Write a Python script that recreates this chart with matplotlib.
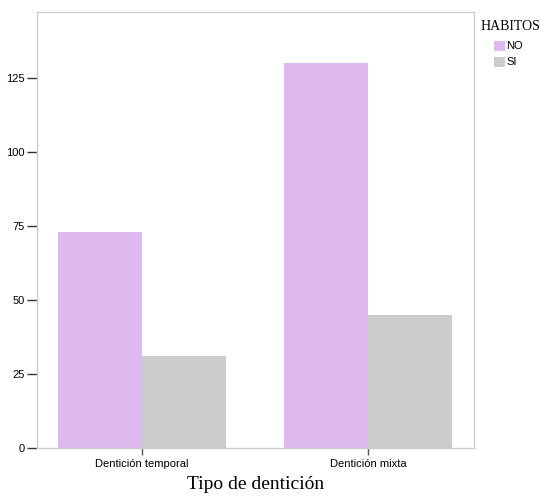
import matplotlib
matplotlib.use("Agg")
import matplotlib.pyplot as plt
import numpy as np
from matplotlib.patches import Rectangle

categories = ["Dentición temporal", "Dentición mixta"]
series_names = ["NO", "SI"]
no_values = [73, 130]
si_values = [31, 45]
y_ticks = [0, 25, 50, 75, 100, 125]
legend_title = "HABITOS"

colors = {"NO": "#DDB9F0", "SI": "#CCCCCC"}

W, H = 541, 496
fig = plt.figure(figsize=(W / 100, H / 100), dpi=100)
ax = fig.add_axes([0.0684, 0.0968, 0.8076, 0.879])

x = np.arange(len(categories))
width = 0.372
ax.bar(x - width / 2, no_values, width, color=colors["NO"], linewidth=0)
ax.bar(x + width / 2, si_values, width, color=colors["SI"], linewidth=0)

ax.set_xlim(-0.465, 1.469)
ax.set_ylim(0, 147.3)
ax.set_yticks(y_ticks)
ax.set_xticks(x)
ax.set_xticklabels(categories, fontsize=8, family="Liberation Sans")
ax.set_yticklabels([str(v) for v in y_ticks], fontsize=8, family="Liberation Sans")
ax.tick_params(axis="y", direction="out", length=7, width=1, color="#333333", pad=2)
ax.tick_params(axis="x", direction="out", length=5, width=1, color="#555555", pad=3)

for s in ax.spines.values():
    s.set_color("#CCCCCC")
    s.set_linewidth(1)

ax.set_xlabel("Tipo de dentición", fontsize=14, family="Liberation Serif", labelpad=5)

# Legend drawn in figure pixel coordinates
def px(xp, yp):
    return xp / W, 1 - yp / H

fig.text(*px(481, 26), legend_title, fontsize=10, family="Liberation Serif",
         ha="left", va="center")
for i, name in enumerate(series_names):
    yc = 46 + 16 * i
    x0, y0 = px(494, yc + 5)
    fig.add_artist(Rectangle((x0, y0), 11 / W, 10 / H, transform=fig.transFigure,
                             facecolor=colors[name], edgecolor="none"))
    fig.text(*px(506, yc), name, fontsize=8, family="Liberation Sans",
             ha="left", va="center")

fig.savefig("out.png", dpi=100)
